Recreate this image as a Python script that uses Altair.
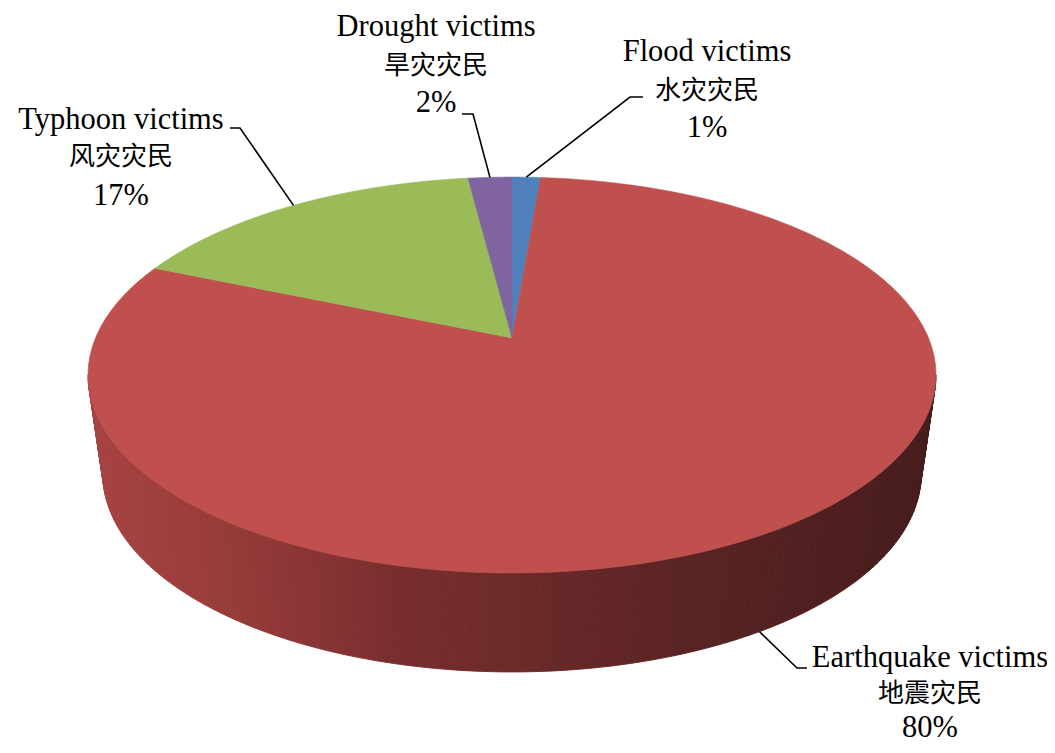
import math
import altair as alt

# ---------------- data (slices in clockwise order from 12 o'clock) ----------------
slice_en = ["Flood victims", "Earthquake victims", "Typhoon victims", "Drought victims"]
slice_zh = ["水灾灾民", "地震灾民", "风灾灾民", "旱灾灾民"]
slice_share = [1.3, 80.1, 16.6, 2.0]
slice_pct = ["1%", "80%", "17%", "2%"]

# ---------------- style / layout ----------------
slice_fill = ["#4f81bd", "#c0504d", "#9bbb59", "#8064a2"]
side_stops = [(88, (166, 67, 66)), (230, (150, 59, 58)), (390, (122, 46, 46)),
              (512, (109, 42, 42)), (680, (91, 36, 36)), (936, (71, 28, 28))]

MARGIN = 8
W, H = 1055 - 2 * MARGIN, 753 - 2 * MARGIN
CX, CY = 512.0, 338.0          # apex of the pie (page px)
A, B, P = 416.5, 191.0, 0.187  # perspective ellipse parameters
DEPTH, XS = 99.0, 0.965        # thickness and bottom shrink

# label layout (page px)
label_x = [707, 930, 121, 436]
label_base = [61, 667, 129, 36]
pct_gap = [76, 70, 76, 76]
zh_gap = [30, 27, 28, 30]
elbow = [(630, 97), (797, 668), (240, 128), (473, 114)]
tail = [(643, 97), (807, 668), (230, 128), (462, 114)]
anchor_bottom = [False, True, False, False]


def c(x, y):
    return [round(x - MARGIN, 2), round(y - MARGIN, 2)]


def top_pt(deg):
    t = math.radians(deg)
    d = 1 + P * math.sin(t)
    return CX + A * math.cos(t) / d, CY - B * math.sin(t) / d


def bot_pt(deg):
    x, y = top_pt(deg)
    return CX + (x - CX) * XS, y + DEPTH


def side_color(x):
    for (x0, c0), (x1, c1) in zip(side_stops[:-1], side_stops[1:]):
        if x <= x1 or (x1 == side_stops[-1][0]):
            f = min(max((x - x0) / (x1 - x0), 0), 1)
            r, g, b = (round(c0[k] + (c1[k] - c0[k]) * f) for k in range(3))
            return "#%02x%02x%02x" % (r, g, b)
    return "#471c1c"


def poly(ring, color):
    return {"type": "Feature",
            "geometry": {"type": "Polygon", "coordinates": [ring]},
            "properties": {"fill": color}}


# side of the pie (visible near half)
tL = 180 + math.degrees(math.asin(P))
tR = 360 - math.degrees(math.asin(P))
side_feats = []
n = 150
for i in range(n):
    a0 = tL + (tR - tL) * i / n
    a1 = tL + (tR - tL) * (i + 1) / n
    p0, p1 = top_pt(a0), top_pt(a1)
    q0, q1 = bot_pt(a0), bot_pt(a1)
    ring = [c(*p0), c(*p1), c(*q1), c(*q0), c(*p0)]
    side_feats.append(poly(ring, side_color((p0[0] + p1[0]) / 2)))

# top face slices
top_feats = []
mids = []
start = 90.0
for share, col in zip(slice_share, slice_fill):
    end = start - share * 3.6
    steps = max(4, int(abs(end - start) / 0.5))
    arc = [c(*top_pt(start + (end - start) * k / steps)) for k in range(steps + 1)]
    ring = [c(CX, CY)] + arc + [c(CX, CY)]
    top_feats.append(poly(ring, col))
    mids.append((start + end) / 2)
    start = end

# leader lines
line_feats = []
for m, eb, tl, onb in zip(mids, elbow, tail, anchor_bottom):
    ax, ay = bot_pt(m) if onb else top_pt(m)
    line_feats.append({"type": "Feature",
                       "geometry": {"type": "LineString",
                                    "coordinates": [c(ax, ay), c(*eb), c(*tl)]},
                       "properties": {}})

# text rows
en_rows, zh_rows, pct_rows = [], [], []
for en, zh, pc, lx, lb, zg, pg in zip(slice_en, slice_zh, slice_pct, label_x,
                                      label_base, zh_gap, pct_gap):
    x, y = c(lx, lb)
    en_rows.append({"x": x, "y": y, "t": en})
    zh_rows.append({"x": x, "y": y + zg, "t": zh})
    pct_rows.append({"x": x, "y": y + pg, "t": pc})


def proj(ch):
    return ch.project(type="identity", scale=1, translate=[0, 0])


side = proj(alt.Chart(alt.Data(values=side_feats)).mark_geoshape(strokeWidth=0.9).encode(
    fill=alt.Fill("properties.fill:N", scale=None),
    stroke=alt.Stroke("properties.fill:N", scale=None),
))

top = proj(alt.Chart(alt.Data(values=top_feats)).mark_geoshape(strokeWidth=0.6).encode(
    fill=alt.Fill("properties.fill:N", scale=None),
    stroke=alt.Stroke("properties.fill:N", scale=None),
))

lines = proj(alt.Chart(alt.Data(values=line_feats)).mark_geoshape(
    filled=False, stroke="#000000", strokeWidth=1.6
))

en_text = proj(alt.Chart(alt.Data(values=en_rows)).mark_text(
    font="Liberation Serif", fontSize=30.5, align="center", baseline="alphabetic", color="#000000"
).encode(longitude="x:Q", latitude="y:Q", text="t:N"))

zh_text = proj(alt.Chart(alt.Data(values=zh_rows)).mark_text(
    font="Noto Sans CJK SC", fontSize=26, align="center", baseline="middle", color="#000000"
).encode(longitude="x:Q", latitude="y:Q", text="t:N"))

pct_text = proj(alt.Chart(alt.Data(values=pct_rows)).mark_text(
    font="Liberation Serif", fontSize=30.5, align="center", baseline="alphabetic", color="#000000"
).encode(longitude="x:Q", latitude="y:Q", text="t:N"))

chart = alt.layer(side, top, lines, en_text, zh_text, pct_text).properties(
    width=W, height=H, padding=0, autosize="none", background="#ffffff"
).configure_view(stroke="transparent")

chart.save("out.html", embed_options={"renderer": "svg", "actions": False})
